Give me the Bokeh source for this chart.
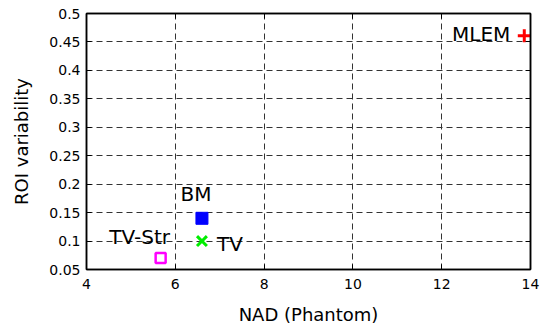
from bokeh.plotting import figure
from bokeh.models import FixedTicker, LinearAxis, Range1d
from bokeh.core.properties import value
from bokeh.embed import file_html
from bokeh.resources import INLINE

# data
methods = ["MLEM", "BM", "TV", "TV-Str"]
nad = [13.86, 6.6, 6.6, 5.67]
roi_var = [0.461, 0.14, 0.1, 0.07]

x_ticks = [4, 6, 8, 10, 12, 14]
y_ticks = [0.05, 0.1, 0.15, 0.2, 0.25, 0.3, 0.35, 0.4, 0.45, 0.5]
y_tick_labels = ["0.05", "0.1", "0.15", "0.2", "0.25", "0.3", "0.35", "0.4", "0.45", "0.5"]

FONT = "DejaVu Sans"

p = figure(width=547, height=328, output_backend="svg", toolbar_location=None,
           x_range=Range1d(4, 14), y_range=Range1d(0.05, 0.5),
           min_border_left=86, min_border_right=17, min_border_top=13, min_border_bottom=59)
p.outline_line_color = "black"
p.outline_line_width = 1.5
p.background_fill_color = "white"
p.border_fill_color = "white"

for ax in (p.xaxis[0], p.yaxis[0]):
    ax.major_tick_in = 5
    ax.major_tick_out = 0
    ax.minor_tick_line_color = None
    ax.axis_line_width = 1.5
    ax.major_label_text_font = FONT
    ax.major_label_text_font_size = "14px"
    ax.major_label_text_color = "black"
    ax.axis_label_text_font = FONT
    ax.axis_label_text_font_size = "18px"
    ax.axis_label_text_font_style = "normal"
    ax.axis_label_text_color = "black"

p.xaxis.ticker = FixedTicker(ticks=x_ticks)
p.yaxis.ticker = FixedTicker(ticks=y_ticks)
p.yaxis.major_label_overrides = {t: l for t, l in zip(y_ticks, y_tick_labels)}
p.xaxis.axis_label = "NAD (Phantom)"
p.yaxis.axis_label = "ROI variability"
p.xaxis.major_label_standoff = 9
p.yaxis.major_label_standoff = 6
p.xaxis.axis_label_standoff = 12
p.yaxis.axis_label_standoff = 14

# top/right tick-only axes
top = LinearAxis(ticker=FixedTicker(ticks=x_ticks), major_label_text_font_size="0px",
                 major_tick_in=5, major_tick_out=0, minor_tick_line_color=None, axis_line_width=1.5)
right = LinearAxis(ticker=FixedTicker(ticks=y_ticks), major_label_text_font_size="0px",
                   major_tick_in=5, major_tick_out=0, minor_tick_line_color=None, axis_line_width=1.5)
top.major_label_standoff = 0
right.major_label_standoff = 0
p.add_layout(top, "above")
p.add_layout(right, "right")

for g in (p.xgrid[0], p.ygrid[0]):
    g.grid_line_color = "#333333"
    g.grid_line_dash = "6 4"
    g.grid_line_width = 1

# markers
p.scatter([nad[0]], [roi_var[0]], marker="cross", size=13, line_color="#ff0000", line_width=3)
p.scatter([nad[1]], [roi_var[1]], marker="square", size=12, fill_color="#0000ff", line_color="#0000ff")
p.scatter([nad[2]], [roi_var[2]], marker="x", size=14, line_color="#00ee00", line_width=3)
p.scatter([nad[3]], [roi_var[3]], marker="square", size=10, fill_color="white",
          line_color="#ff00ff", line_width=2.5)

# labels
txt = dict(text_font=value(FONT), text_font_size="20px", text_color="black", text_baseline="middle")
p.text([nad[0]], [roi_var[0]], text=[methods[0]], text_align="right", x_offset=-14, y_offset=-2, **txt)
p.text([nad[1]], [roi_var[1]], text=[methods[1]], text_align="center", x_offset=-6, y_offset=-24, **txt)
p.text([nad[2]], [roi_var[2]], text=[methods[2]], text_align="left", x_offset=15, y_offset=3, **txt)
p.text([nad[3]], [roi_var[3]], text=[methods[3]], text_align="center", x_offset=-21, y_offset=-21, **txt)

open("out.html", "w").write(file_html(p, INLINE))
